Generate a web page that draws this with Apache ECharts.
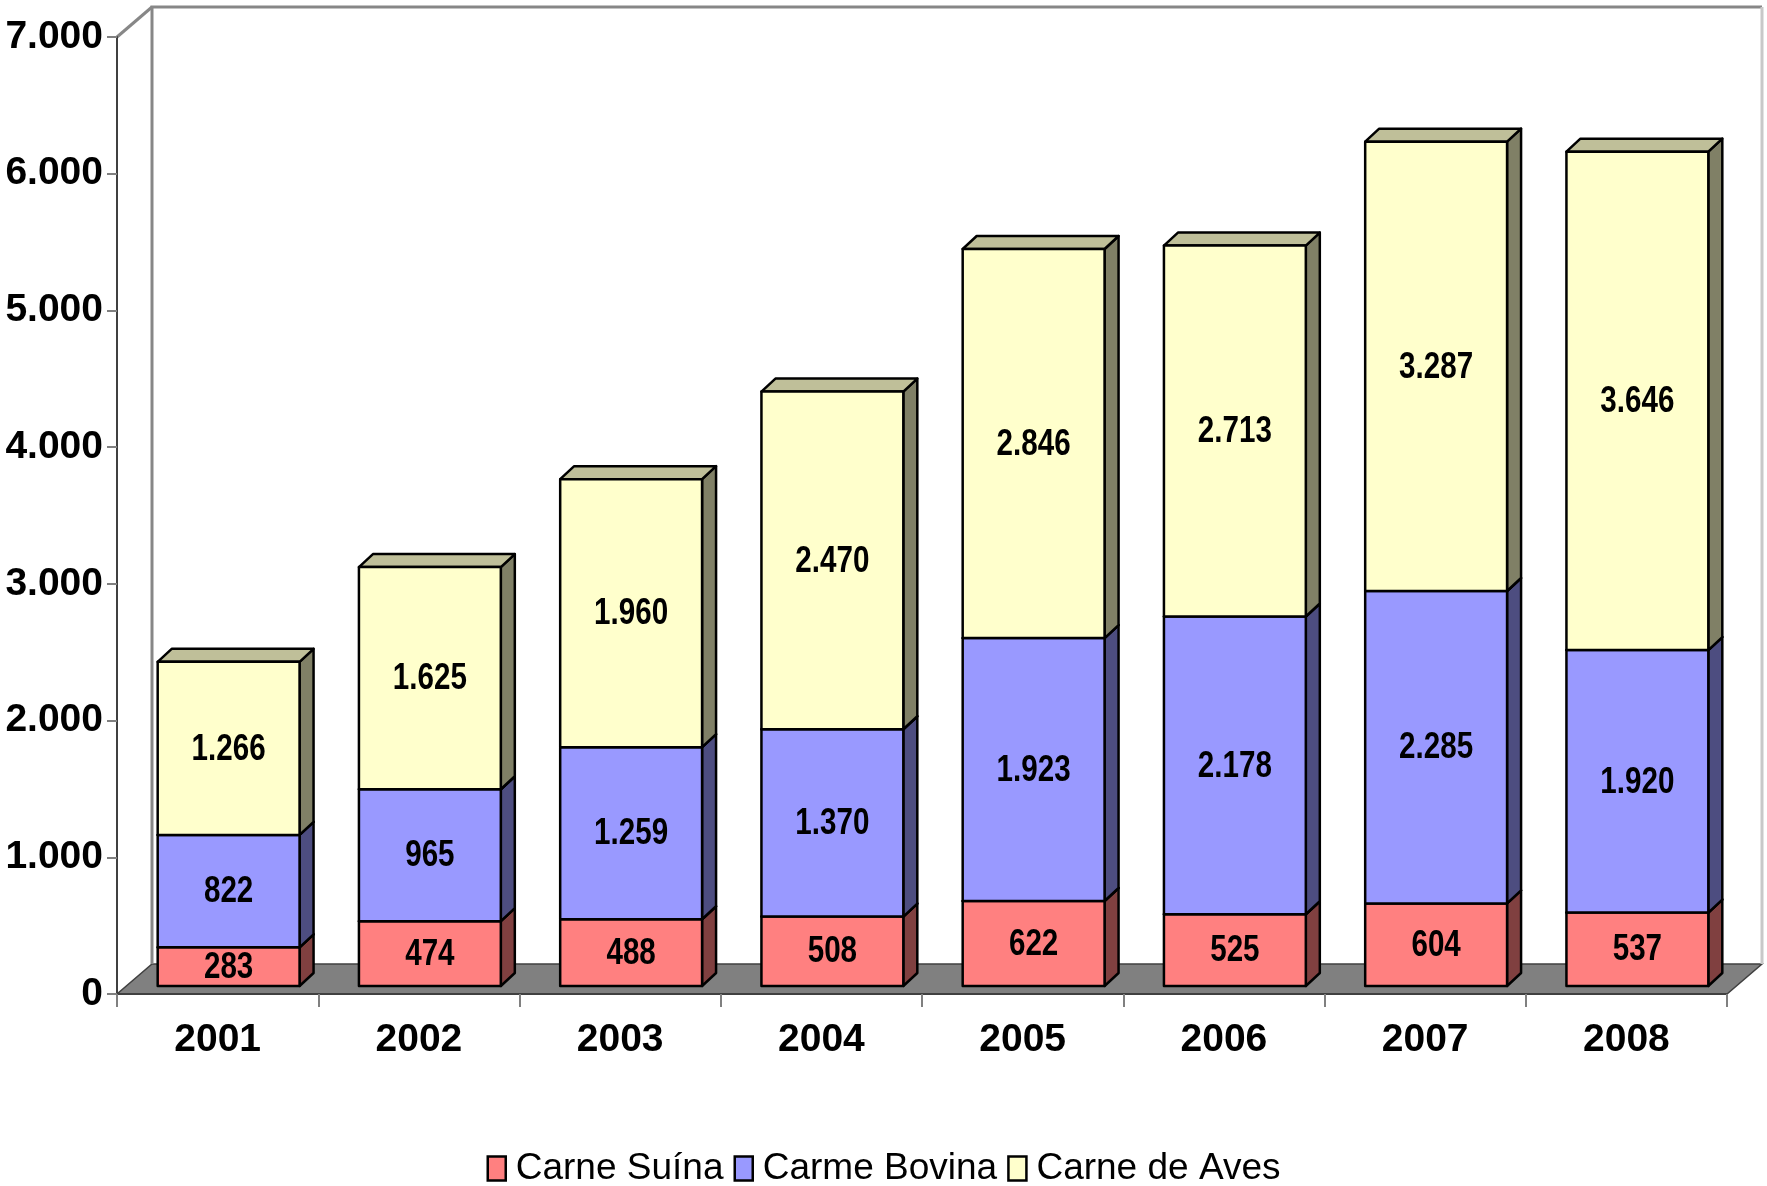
<!DOCTYPE html>
<html>
<head>
<meta charset="utf-8">
<script src="https://cdn.jsdelivr.net/npm/echarts@6/dist/echarts.min.js"></script>
<style>
  html, body { margin: 0; padding: 0; background: #fff; }
  #chart { width: 1767px; height: 1186px; }
</style>
</head>
<body>
<div id="chart"></div>
<script>
// dados
var anos = ["2001", "2002", "2003", "2004", "2005", "2006", "2007", "2008"];
var suina = [283, 474, 488, 508, 622, 525, 604, 537];
var bovina = [822, 965, 1259, 1370, 1923, 2178, 2285, 1920];
var aves = [1266, 1625, 1960, 2470, 2846, 2713, 3287, 3646];
var nomes = ["Carne Suína", "Carme Bovina", "Carne de Aves"];
var yTicks = { min: 0, max: 7000, interval: 1000 };

var FONT = '"Liberation Sans Narrow", "Arial Narrow", "Liberation Sans", Arial, sans-serif';

// profundidade 3D (px)
var DX = 35, DY = -30;       // parede de fundo
var FX = 11, FY = -8;        // deslocamento da face frontal da barra
var BX = 14, BY = -13;       // espessura da barra
var BAR_RATIO = 0.705;

function fmt(v) {
  return String(v).replace(/\B(?=(\d{3})+(?!\d))/g, ".");
}

// cores: frente, lado, topo
var cores = [
  { front: "#FF8080", side: "#804040", top: "#BF6060" },
  { front: "#9999FF", side: "#4D4D80", top: "#7373BF" },
  { front: "#FFFFCC", side: "#808066", top: "#BFBF99" }
];

var listas = [suina, bovina, aves];

function montaDados(idx) {
  var out = [];
  for (var i = 0; i < anos.length; i++) {
    var base = 0;
    for (var k = 0; k < idx; k++) base += listas[k][i];
    out.push([i, base, base + listas[idx][i], listas[idx][i]]);
  }
  return out;
}

function renderBarra(c) {
  return function (params, api) {
    var cat = api.value(0), lo = api.value(1), hi = api.value(2), val = api.value(3);
    var p0 = api.coord([cat, lo]);
    var p1 = api.coord([cat, hi]);
    var bw = api.size([1, 0])[0] * BAR_RATIO;
    var x0 = p0[0] - bw / 2 + FX, x1 = x0 + bw;
    var yb = p0[1] + FY, yt = p1[1] + FY;
    var ls = { stroke: "#000", lineWidth: 2.5, lineJoin: "round" };
    return {
      type: "group",
      children: [
        { type: "polygon", shape: { points: [[x1, yt], [x1 + BX, yt + BY], [x1 + BX, yb + BY], [x1, yb]] },
          style: Object.assign({ fill: c.side }, ls) },
        { type: "polygon", shape: { points: [[x0, yt], [x0 + BX, yt + BY], [x1 + BX, yt + BY], [x1, yt]] },
          style: Object.assign({ fill: c.top }, ls) },
        { type: "rect", shape: { x: x0, y: yt, width: bw, height: yb - yt },
          style: Object.assign({ fill: c.front }, ls) },
        { type: "text", x: (x0 + x1) / 2, y: (yt + yb) / 2 + 1, scaleX: 0.8,
          style: { text: fmt(val), fill: "#000", font: "bold 37px " + FONT, align: "center", verticalAlign: "middle" } }
      ]
    };
  };
}

function renderParedes(params, api) {
  var cs = params.coordSys;
  var x = cs.x, y = cs.y, w = cs.width, h = cs.height;
  return {
    type: "group",
    children: [
      // piso
      { type: "polygon", shape: { points: [[x, y + h], [x + w, y + h], [x + w + DX, y + h + DY], [x + DX, y + h + DY]] },
        style: { fill: "#808080", stroke: "#404040", lineWidth: 1.5 } },
      // parede de fundo
      { type: "polyline", shape: { points: [[x + DX, y + h + DY], [x + DX, y + DY], [x + w + DX, y + DY]] },
        style: { fill: null, stroke: "#878787", lineWidth: 3 } },
      { type: "line", shape: { x1: x + w + DX, y1: y + DY, x2: x + w + DX, y2: y + h + DY },
        style: { stroke: "#c8c8c8", lineWidth: 3 } },
      // diagonal superior esquerda
      { type: "line", shape: { x1: x, y1: y, x2: x + DX, y2: y + DY },
        style: { stroke: "#878787", lineWidth: 3 } }
    ]
  };
}

var chart = echarts.init(document.getElementById("chart"));

var series = [{
  type: "custom",
  name: "_paredes",
  data: [[0, 0]],
  renderItem: renderParedes,
  silent: true,
  clip: false,
  z: 1
}];

for (var s = 0; s < 3; s++) {
  series.push({
    type: "custom",
    name: nomes[s],
    data: montaDados(s),
    encode: { x: 0, y: 2 },
    renderItem: renderBarra(cores[s]),
    itemStyle: { color: cores[s].front, borderColor: "#000", borderWidth: 2.5 },
    clip: false,
    z: 2 + s
  });
}

var option = {
  animation: false,
  backgroundColor: "#fff",
  grid: { left: 117, right: 40, top: 37, bottom: 192, outerBoundsMode: "none", containLabel: false },
  xAxis: {
    type: "category",
    data: anos,
    boundaryGap: true,
    z: 10,
    axisLine: { lineStyle: { color: "#404040", width: 2 } },
    axisTick: { show: true, length: 13, lineStyle: { color: "#808080", width: 2 } },
    axisLabel: { color: "#000", fontWeight: "bold", fontSize: 39, fontFamily: FONT, margin: 27 },
    splitLine: { show: false }
  },
  yAxis: {
    type: "value",
    min: yTicks.min,
    max: yTicks.max,
    interval: yTicks.interval,
    z: 10,
    axisLine: { show: true, lineStyle: { color: "#404040", width: 2 } },
    axisTick: { show: true, length: 10, lineStyle: { color: "#808080", width: 2 } },
    axisLabel: { color: "#000", fontWeight: "bold", fontSize: 39, fontFamily: FONT, margin: 14, formatter: fmt },
    splitLine: { show: false }
  },
  legend: {
    data: nomes.map(function (n) { return { name: n, icon: "rect" }; }),
    top: 1145,
    left: "center",
    itemWidth: 18,
    itemHeight: 24,
    itemGap: 10,
    itemStyle: { borderColor: "#000", borderWidth: 2.5 },
    textStyle: { color: "#000", fontSize: 37, fontFamily: FONT, padding: [0, 0, 0, 5] }
  },
  series: series
};

chart.setOption(option);
</script>
</body>
</html>
